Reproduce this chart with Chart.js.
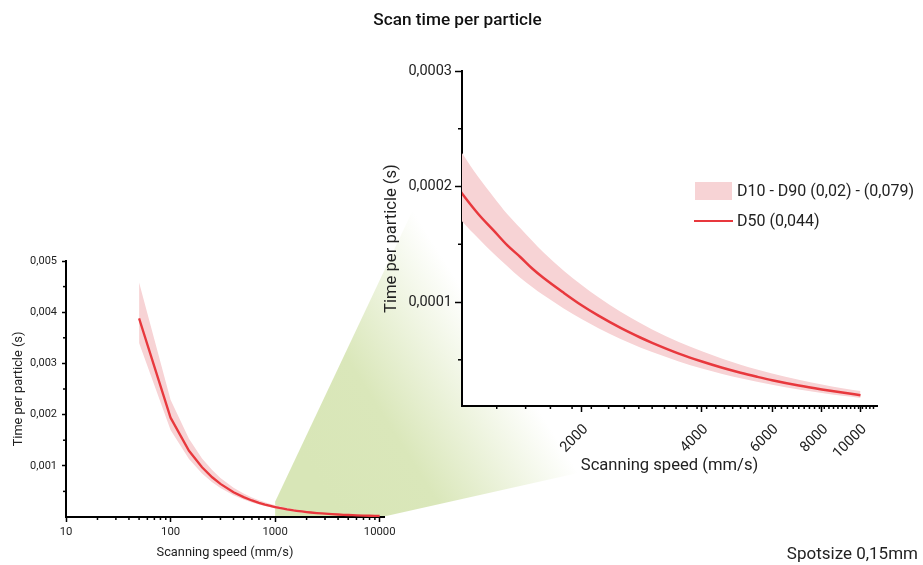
<!DOCTYPE html>
<html>
<head>
<meta charset="utf-8">
<script src="https://cdn.jsdelivr.net/npm/chart.js@4.4.1/dist/chart.umd.min.js"></script>
<style>
  html, body { margin: 0; padding: 0; background: #fff; }
  #wrap { position: relative; width: 923px; height: 565px; overflow: hidden; font-family: Roboto, sans-serif; }
  #wrap canvas { position: absolute; left: 0; top: 0; }
  #title { position: absolute; left: 0; top: 9px; width: 915px; line-height: 20px; text-align: center;
           font-size: 17.2px; font-weight: 500; color: #111; }
  #spot { position: absolute; right: 5px; top: 543px; line-height: 20px; font-size: 17px; color: #222; }
</style>
</head>
<body>
<div id="wrap">
  <canvas id="mainChart" width="923" height="565"></canvas>
  <canvas id="insetChart" width="923" height="565"></canvas>
  <div id="title">Scan time per particle</div>
  <div id="spot">Spotsize 0,15mm</div>
</div>
<script>
// Scanning speed (mm/s)
const speeds = [50, 100, 150, 200, 250, 300, 400, 500, 600, 700, 800, 900,
  1000, 1100, 1200, 1300, 1400, 1500, 1600, 1800, 2000,
  2200, 2500, 2800, 3000, 3500, 4000, 4500, 5000, 5500, 6000,
  7000, 8000, 9000, 10000];
// Time per particle (s), median particle size
const d50 = [0.00388, 0.00194, 0.001293, 0.00097, 0.000776, 0.000647, 0.000485, 0.000388, 0.000323, 0.000277, 0.000243, 0.000216,
  0.000194, 0.000176, 0.000162, 0.000149, 0.000139, 0.000129, 0.000121, 0.000108, 0.000097,
  0.0000882, 0.0000776, 0.0000693, 0.0000647, 0.0000554, 0.0000485, 0.0000431, 0.0000388, 0.0000353, 0.0000323,
  0.0000277, 0.0000243, 0.0000216, 0.0000194];
// lower edge of the band (D10)
const d10 = [0.0034, 0.0017, 0.001133, 0.00085, 0.00068, 0.000567, 0.000425, 0.00034, 0.000283, 0.000243, 0.000213, 0.000189,
  0.00017, 0.000155, 0.000142, 0.000131, 0.000121, 0.000113, 0.000106, 0.0000944, 0.000085,
  0.0000773, 0.000068, 0.0000607, 0.0000567, 0.0000486, 0.0000425, 0.0000378, 0.000034, 0.0000309, 0.0000283,
  0.0000243, 0.0000213, 0.0000189, 0.000017];
// upper edge of the band (D90)
const d90 = [0.00458, 0.00229, 0.001527, 0.001145, 0.000916, 0.000763, 0.000573, 0.000458, 0.000382, 0.000327, 0.000286, 0.000254,
  0.000229, 0.000208, 0.000191, 0.000176, 0.000164, 0.000153, 0.000143, 0.000127, 0.0001145,
  0.0001041, 0.0000916, 0.0000818, 0.0000763, 0.0000654, 0.0000573, 0.0000509, 0.0000458, 0.0000416, 0.0000382,
  0.0000327, 0.0000286, 0.0000254, 0.0000229];

const seriesNames = ['D10 - D90 (0,02) - (0,079)', 'D50 (0,044)'];

// axis ticks of the overview chart
const mainXTicks = [10, 100, 1000, 10000];
const mainYTicks = [0.001, 0.002, 0.003, 0.004, 0.005];
const mainYTickLabels = ['0,001', '0,002', '0,003', '0,004', '0,005'];
// axis ticks of the enlarged chart
const insetXTicks = [2000, 4000, 6000, 8000, 10000];
const insetYTicks = [0.0001, 0.0002, 0.0003];
const insetYTickLabels = ['0,0001', '0,0002', '0,0003'];
// enlarged region (x range, y range)
const zoomX = [1000, 11000];
const zoomY = [0.00001, 0.0003];

const axisTitleX = 'Scanning speed (mm/s)';
const axisTitleY = 'Time per particle (s)';

const lineColor = '#e8383d';
const bandColor = '#f7d3d5';
const textColor = '#222';

Chart.defaults.font.family = 'Roboto, sans-serif';

function datasets(lineWidth, smooth) {
  const pts = arr => speeds.map((x, i) => ({ x, y: arr[i] }));
  const interp = smooth ? 'monotone' : 'default';
  return [
    { label: seriesNames[0], data: pts(d90), borderWidth: 0, borderColor: 'rgba(0,0,0,0)',
      backgroundColor: bandColor, pointRadius: 0, fill: '+1', order: 2, cubicInterpolationMode: interp },
    { label: 'D10', data: pts(d10), borderWidth: 0, borderColor: 'rgba(0,0,0,0)', pointRadius: 0,
      fill: false, order: 2, cubicInterpolationMode: interp },
    { label: seriesNames[1], data: pts(d50), borderColor: lineColor, borderWidth: lineWidth,
      pointRadius: 0, fill: false, order: 0, cubicInterpolationMode: interp }
  ];
}

// short unlabelled tick marks between the labelled ones
function minorTicks(spec) {
  return {
    id: 'minorTicks',
    afterDraw(chart) {
      const ctx = chart.ctx;
      ctx.save();
      ctx.strokeStyle = '#000';
      ctx.lineWidth = 1.5;
      Object.keys(spec).forEach(id => {
        const s = chart.scales[id];
        spec[id].values.forEach(v => {
          const p = s.getPixelForValue(v);
          ctx.beginPath();
          if (s.isHorizontal()) { ctx.moveTo(p, s.top); ctx.lineTo(p, s.top + spec[id].len); }
          else { ctx.moveTo(s.right, p); ctx.lineTo(s.right - spec[id].len, p); }
          ctx.stroke();
        });
      });
      ctx.restore();
    }
  };
}

function logMinors(decades) {
  const out = [];
  decades.forEach(d => { for (let k = 2; k <= 9; k++) out.push(k * d); });
  return out;
}

function axisCommon(size, tickLen, pad, callback, rotation, offset) {
  return {
    grid: { display: true, drawOnChartArea: false, drawTicks: true, tickLength: tickLen, tickColor: '#000', tickWidth: 1.5 },
    border: { display: true, color: '#000', width: 2 },
    ticks: { autoSkip: false, color: textColor, padding: pad, font: { size },
             minRotation: rotation, maxRotation: rotation, labelOffset: offset || 0, callback }
  };
}

// ---- enlarged chart (1000 - 10000 mm/s) ----
const insetStep = (insetXTicks[1] - insetXTicks[0]) / 9;
const insetXMinor = [];
for (let v = zoomX[0] + insetStep; v < zoomX[1]; v += insetStep) {
  if (!insetXTicks.some(t => Math.abs(t - v) < 1)) insetXMinor.push(v);
}

const insetChart = new Chart(document.getElementById('insetChart'), {
  type: 'line',
  data: { datasets: datasets(2.5, true) },
  options: {
    responsive: false, animation: false, events: [],
    layout: { padding: { left: 378, top: 71, right: 46, bottom: 85 } },
    plugins: { legend: { display: false }, tooltip: { enabled: false }, filler: { drawTime: 'beforeDatasetsDraw' } },
    scales: {
      x: Object.assign(axisCommon(14.5, 6, 9, v => String(v), 45, 4), {
        type: 'logarithmic', min: zoomX[0], max: zoomX[1],
        afterFit(s) { s.height = 74; },
        afterBuildTicks(s) { s.ticks = insetXTicks.map(v => ({ value: v })); },
        title: { display: true, text: axisTitleX, color: textColor, font: { size: 16.6 }, padding: { top: 0, bottom: 4 } }
      }),
      y: Object.assign(axisCommon(14.5, 7, 3, (v, i) => insetYTickLabels[i], 0), {
        type: 'linear', min: zoomY[0], max: zoomY[1],
        afterFit(s) { s.width = 84; },
        afterBuildTicks(s) { s.ticks = insetYTicks.map(v => ({ value: v })); },
        title: { display: true, text: axisTitleY, color: textColor, font: { size: 16.6 }, padding: { top: 4, bottom: 0 } }
      })
    }
  },
  plugins: [
    {
      id: 'plotBackground',
      beforeDraw(chart) {
        const a = chart.chartArea;
        chart.ctx.save();
        chart.ctx.fillStyle = '#fff';
        chart.ctx.fillRect(a.left, a.top, a.right - a.left, a.bottom - a.top);
        chart.ctx.restore();
      }
    },
    minorTicks({
      x: { values: insetXMinor, len: 3 },
      y: { values: [0.00005, 0.00015, 0.00025], len: 4 }
    }),
    {
      id: 'seriesLegend',
      afterDraw(chart) {
        const ctx = chart.ctx;
        ctx.save();
        ctx.fillStyle = bandColor;
        ctx.fillRect(695, 182, 37, 18);
        ctx.strokeStyle = lineColor;
        ctx.lineWidth = 2;
        ctx.beginPath(); ctx.moveTo(694, 221); ctx.lineTo(733, 221); ctx.stroke();
        ctx.fillStyle = textColor;
        ctx.font = '16px Roboto, sans-serif';
        ctx.textBaseline = 'middle';
        ctx.fillText(seriesNames[0], 737, 191.5);
        ctx.fillText(seriesNames[1], 737, 221.5);
        ctx.restore();
      }
    }
  ]
});

// ---- overview chart (10 - 10000 mm/s) ----
const mainChart = new Chart(document.getElementById('mainChart'), {
  type: 'line',
  data: { datasets: datasets(2.3, false) },
  options: {
    responsive: false, animation: false, events: [],
    layout: { padding: { left: 7, top: 261, right: 539, bottom: 0 } },
    plugins: { legend: { display: false }, tooltip: { enabled: false }, filler: { drawTime: 'beforeDatasetsDraw' } },
    scales: {
      x: Object.assign(axisCommon(11.3, 5, 3, v => String(v), 0), {
        type: 'logarithmic', min: 10, max: zoomX[1],
        afterFit(s) { s.height = 48; },
        afterBuildTicks(s) { s.ticks = mainXTicks.map(v => ({ value: v })); },
        title: { display: true, text: axisTitleX, color: textColor, font: { size: 12.8 }, padding: { top: 0, bottom: 5 } }
      }),
      y: Object.assign(axisCommon(11, 4, 5, (v, i) => mainYTickLabels[i], 0), {
        type: 'linear', min: 0, max: 0.005,
        afterFit(s) { s.width = 59; },
        afterBuildTicks(s) { s.ticks = mainYTicks.map(v => ({ value: v })); },
        title: { display: true, text: axisTitleY, color: textColor, font: { size: 12.8 }, padding: { top: 4, bottom: 0 } }
      })
    }
  },
  plugins: [
    {
      // green wedge joining the enlarged region to the enlarged chart
      id: 'zoomWedge',
      beforeDraw(chart) {
        const mx = chart.scales.x, my = chart.scales.y;
        const ix = insetChart.scales.x, iy = insetChart.scales.y;
        const ctx = chart.ctx;
        ctx.save();
        const g = ctx.createLinearGradient(330, 500, 520, 380);
        g.addColorStop(0, 'rgb(216,230,183)');
        g.addColorStop(0.4, 'rgb(218,231,186)');
        g.addColorStop(1, 'rgb(255,255,255)');
        ctx.fillStyle = g;
        ctx.beginPath();
        ctx.moveTo(mx.getPixelForValue(zoomX[0]), my.getPixelForValue(zoomY[0]));
        ctx.lineTo(mx.getPixelForValue(zoomX[0]), my.getPixelForValue(zoomY[1]));
        ctx.lineTo(ix.getPixelForValue(1100), iy.getPixelForValue(zoomY[1]));
        ctx.lineTo(ix.getPixelForValue(zoomX[1]), iy.getPixelForValue(zoomY[0]));
        ctx.lineTo(mx.getPixelForValue(zoomX[1]), my.getPixelForValue(zoomY[0]));
        ctx.closePath();
        ctx.fill();
        ctx.restore();
      }
    },
    minorTicks({
      x: { values: logMinors([10, 100, 1000]), len: 3 },
      y: { values: [0.0005, 0.0015, 0.0025, 0.0035, 0.0045], len: 3 }
    })
  ]
});
</script>
</body>
</html>
